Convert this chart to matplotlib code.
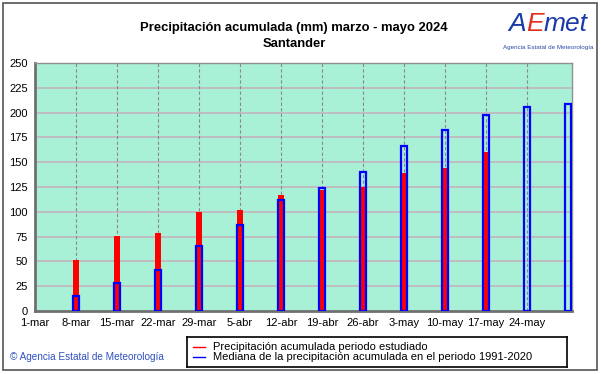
import numpy as np
import matplotlib.pyplot as plt
from matplotlib.patches import Rectangle
from matplotlib.offsetbox import TextArea, HPacker, AnnotationBbox

# weekly dates, accumulated precipitation (mm)
tick_labels = ['1-mar', '8-mar', '15-mar', '22-mar', '29-mar', '5-abr', '12-abr',
               '19-abr', '26-abr', '3-may', '10-may', '17-may', '24-may']
week = [1, 2, 3, 4, 5, 6, 7, 8, 9, 10, 11, 12, 13]
observed = [51, 76, 79, 100, 102, 117, 122, 125, 139, 144, 160]   # 2024 up to 17-may
median = [15, 28, 41, 66, 87, 112, 124, 140, 166, 182, 198, 206, 209]

W, H = 601, 374
fig = plt.figure(figsize=(W / 100, H / 100), dpi=100)
plt.rcParams['font.family'] = ['Liberation Sans', 'DejaVu Sans']

# outer frame
fig.patches.append(Rectangle((3 / W, 4 / H), 594 / W, 367 / H, transform=fig.transFigure,
                             fill=False, edgecolor='#555555', lw=1.2))

ax = fig.add_axes([35 / W, (H - 311) / H, (572 - 35) / W, (311 - 63) / H])
ax.set_facecolor('#a8f0d6')
ax.set_xlim(0, 13.1)
ax.set_ylim(0, 250)
ax.set_yticks(np.arange(0, 251, 25))
ax.set_xticks(range(len(tick_labels)))
ax.set_xticklabels(tick_labels, fontsize=8)
ax.tick_params(axis='y', labelsize=8, length=0, pad=5)
ax.tick_params(axis='x', length=0, pad=5)

for y in np.arange(25, 250, 25):
    ax.axhline(y, color='#c0b8c0', lw=1.3, zorder=0)
for x in range(1, 13):
    ax.axvline(x, color='#8a8a8a', lw=0.8, ls=(0, (3, 2)), zorder=0)

for s in ['left', 'bottom']:
    ax.spines[s].set_color('#707070')
    ax.spines[s].set_linewidth(2)
for s in ['top', 'right']:
    ax.spines[s].set_color('#909090')
    ax.spines[s].set_linewidth(1)

ax.bar(week[:len(observed)], observed, width=0.14, color='#ff0000', zorder=2)
ax.bar(week, median, width=0.16, facecolor='none', edgecolor='#0000ff', lw=1.6, zorder=3)

fig.text(294 / W, 1 - 28 / H, 'Precipitación acumulada (mm) marzo - mayo 2024',
         ha='center', va='center', fontsize=9.4, fontweight='bold')
fig.text(294 / W, 1 - 44 / H, 'Santander', ha='center', va='center',
         fontsize=9.4, fontweight='bold')

# logo
parts = [TextArea(t, textprops=dict(color=c, fontsize=19, style='italic'))
         for t, c in [('A', '#1a3aa8'), ('E', '#e03020'), ('met', '#1a3aa8')]]
logo = HPacker(children=parts, pad=0, sep=0)
fig.add_artist(AnnotationBbox(logo, (548 / W, 1 - 24 / H), xycoords='figure fraction',
                              frameon=False, box_alignment=(0.5, 0.5)))
fig.text(548 / W, 1 - 48 / H, 'Agencia Estatal de Meteorología', ha='center', va='center',
         fontsize=4.5, color='#2a4aa8')

fig.text(10 / W, 1 - 357 / H, '© Agencia Estatal de Meteorología', ha='left', va='center',
         fontsize=7.2, color='#3050c0')

# legend
lax = fig.add_axes([187 / W, (H - 367) / H, (567 - 187) / W, 30 / H])
lax.set_xlim(0, 380)
lax.set_ylim(0, 30)
lax.set_xticks([])
lax.set_yticks([])
for s in lax.spines.values():
    s.set_linewidth(1.2)
lax.plot([6, 18], [20, 20], color='#ff0000', lw=1)
lax.plot([6, 18], [10, 10], color='#0000ff', lw=1)
lax.text(26, 20, 'Precipitación acumulada periodo estudiado', va='center', fontsize=8)
lax.text(26, 10, 'Mediana de la precipitación acumulada en el periodo 1991-2020',
         va='center', fontsize=8)

fig.savefig('out.png', dpi=100)
